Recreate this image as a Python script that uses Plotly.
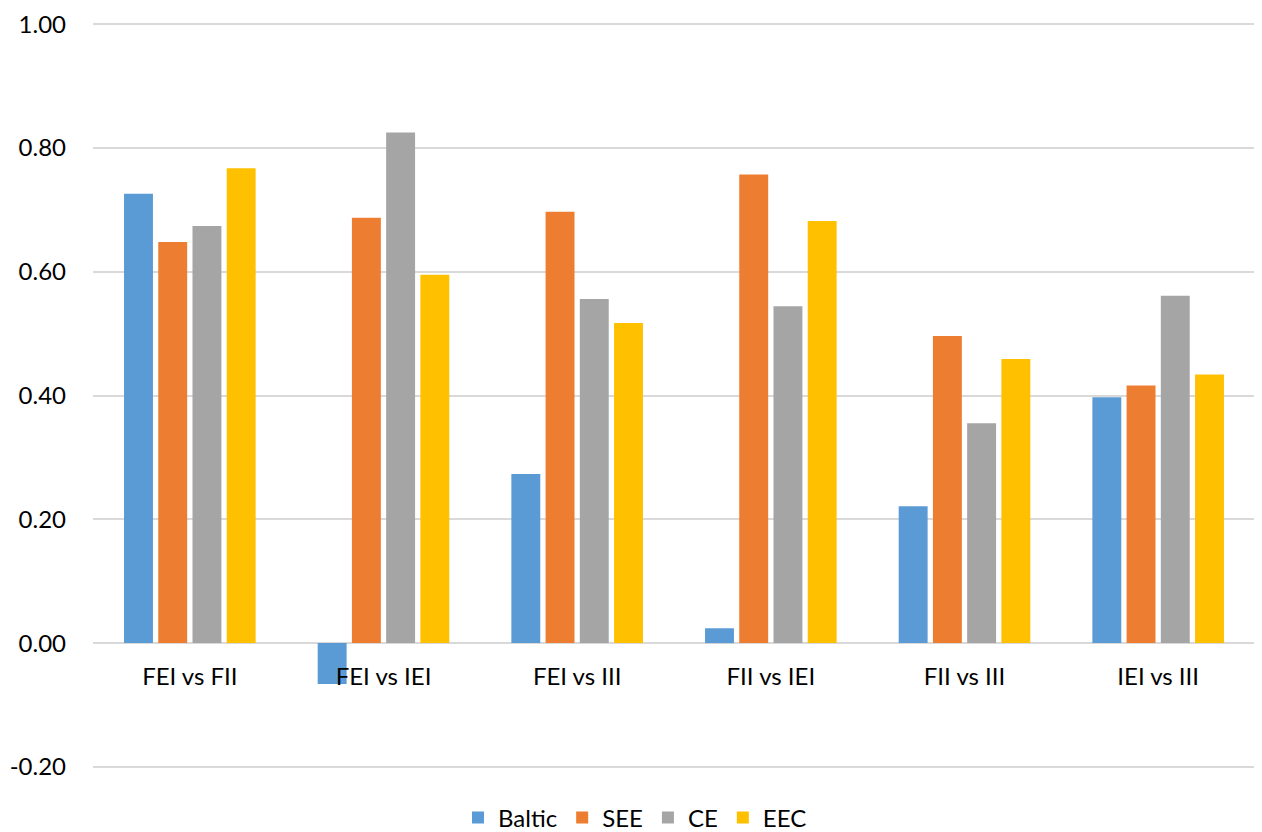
import plotly.graph_objects as go

categories = ["FEI vs FII", "FEI vs IEI", "FEI vs III", "FII vs IEI", "FII vs III", "IEI vs III"]
baltic = [0.726, -0.066, 0.273, 0.024, 0.221, 0.397]
see = [0.648, 0.687, 0.697, 0.757, 0.496, 0.416]
ce = [0.674, 0.825, 0.556, 0.544, 0.355, 0.561]
eec = [0.767, 0.595, 0.517, 0.682, 0.459, 0.434]

series_names = ["Baltic", "SEE", "CE", "EEC"]
series_values = [baltic, see, ce, eec]
colors = ["#5B9BD5", "#ED7D31", "#A5A5A5", "#FFC000"]

y_tick_vals = [-0.2, 0.0, 0.2, 0.4, 0.6, 0.8, 1.0]
y_tick_text = ["-0.20", "0.00", "0.20", "0.40", "0.60", "0.80", "1.00"]

font_family = "Lato, 'Open Sans', sans-serif"

# The page body adds an 8px margin, so the figure is sized to fit the window.
W, H = 1254, 824
y_lo, y_hi = -0.205, 1.005

fig = go.Figure()
for name, vals, col in zip(series_names, series_values, colors):
    fig.add_trace(go.Bar(x=categories, y=vals, name=name,
                         marker=dict(color=col, line=dict(width=0))))

fig.update_layout(
    width=W, height=H,
    paper_bgcolor="white", plot_bgcolor="white",
    barmode="group", bargap=0.293, bargroupgap=0.155,
    margin=dict(l=85, r=7, t=13, b=62, autoexpand=False),
    font=dict(family=font_family, size=24, color="#000000"),
    showlegend=True,
    legend=dict(orientation="h", x=0.5, xanchor="center", xref="container",
                y=1 - 810 / H, yanchor="middle", yref="container",
                font=dict(size=24), traceorder="normal", itemwidth=30),
    xaxis=dict(showgrid=False, showline=False, zeroline=False,
               anchor="free", position=(0 - y_lo) / (y_hi - y_lo), ticks="",
               ticklabelstandoff=17, tickfont=dict(size=24)),
    yaxis=dict(range=[y_lo, y_hi], tickvals=y_tick_vals, ticktext=y_tick_text,
               showgrid=True, gridcolor="#D9D9D9", gridwidth=2,
               zeroline=True, zerolinecolor="#D9D9D9", zerolinewidth=2,
               showline=False, ticks="", ticklabelstandoff=26,
               ticklabeloverflow="allow",
               tickfont=dict(size=24)),
)

fig.write_html("out.html")
